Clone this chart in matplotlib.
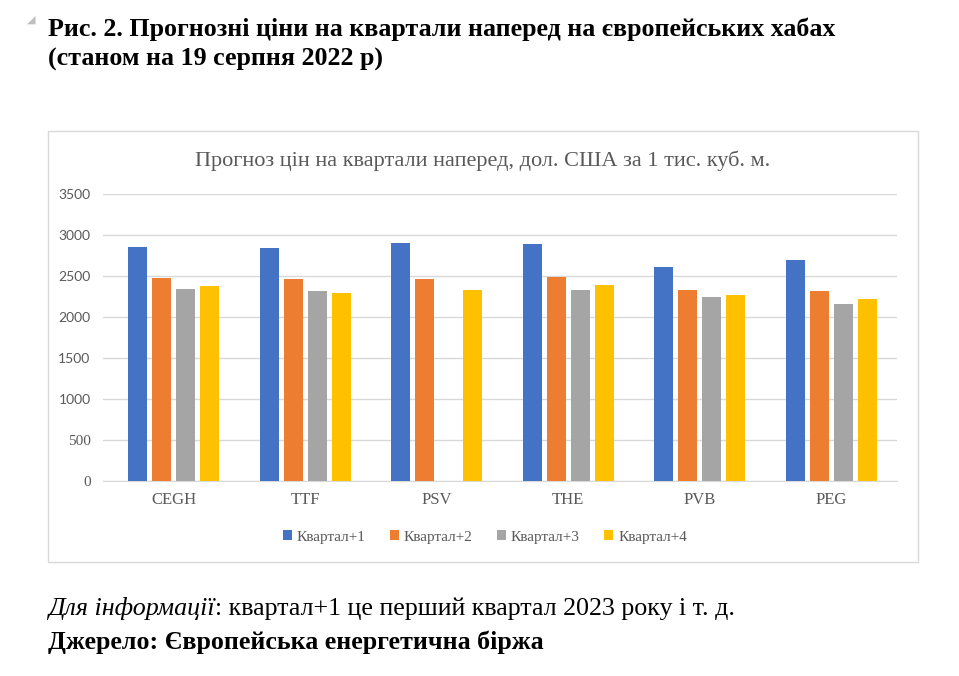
import numpy as np
import matplotlib
matplotlib.use("Agg")
import matplotlib.pyplot as plt
from matplotlib.patches import Rectangle, Patch

# Дані
categories = ['CEGH', 'TTF', 'PSV', 'THE', 'PVB', 'PEG']
kv1 = [2858, 2846, 2911, 2894, 2614, 2699]
kv2 = [2480, 2467, 2467, 2496, 2333, 2321]
kv3 = [2350, 2321, np.nan, 2333, 2248, 2163]
kv4 = [2382, 2297, 2333, 2394, 2272, 2224]
series_names = ['Квартал+1', 'Квартал+2', 'Квартал+3', 'Квартал+4']
yticks = [0, 500, 1000, 1500, 2000, 2500, 3000, 3500]

colors = ['#4472C4', '#ED7D31', '#A5A5A5', '#FFC000']
grey_txt = '#595959'
serif = 'Liberation Serif'

W, H = 959, 676
fig = plt.figure(figsize=(W / 100, H / 100), dpi=100)
fig.patch.set_facecolor('white')

def fx(px):
    return px / W

def fy(py):
    return 1 - py / H

# рамка діаграми
fig.patches.append(Rectangle((fx(48), fy(562)), fx(918) - fx(48), fy(131) - fy(562),
                             transform=fig.transFigure, facecolor='none',
                             edgecolor='#D9D9D9', linewidth=1, zorder=-1))

ax = fig.add_axes([fx(103), fy(481), fx(897) - fx(103), fy(194.3) - fy(481)])
ax.set_facecolor('none')

x = np.arange(len(categories))
step = 0.1825
width = 0.1445
for i, (vals, c, name) in enumerate(zip([kv1, kv2, kv3, kv4], colors, series_names)):
    ax.bar(x + (i - 1.5) * step, vals, width=width, color=c, label=name, zorder=3)

ax.set_xlim(-0.536, 5.5)
ax.set_ylim(0, 3500)
ax.set_yticks(yticks)
ax.set_yticklabels([str(v) for v in yticks], color=grey_txt)
# в оригіналі нижні підписи набрані шрифтом із засічками
for v, lab in zip(yticks, ax.get_yticklabels()):
    if v < 1000:
        lab.set_fontfamily(serif)
        lab.set_fontsize(11)
    else:
        lab.set_fontfamily('Lato')
        lab.set_fontsize(10)
ax.set_xticks(x)
ax.set_xticklabels(categories, fontfamily=serif, fontsize=12, color=grey_txt)
ax.tick_params(axis='y', length=0, pad=9)
ax.tick_params(axis='x', length=0, pad=8)
ax.grid(axis='y', color='#D9D9D9', linewidth=1, zorder=0)
for s in ['top', 'right', 'left']:
    ax.spines[s].set_visible(False)
ax.spines['bottom'].set_color('#D9D9D9')

# заголовок діаграми
fig.text(fx(483), fy(161), 'Прогноз цін на квартали наперед, дол. США за 1 тис. куб. м.',
         ha='center', va='center', fontfamily=serif, fontsize=16, color=grey_txt)

# легенда
handles = [Patch(facecolor=c) for c in colors]
fig.legend(handles, series_names, loc='center', bbox_to_anchor=(fx(485), fy(537)),
           ncol=4, frameon=False, handlelength=0.6, handleheight=0.6, handletextpad=0.3,
           columnspacing=1.6, prop={'family': serif, 'size': 11}, labelcolor=grey_txt)

# заголовок рисунка
fig.text(fx(27), fy(20), '◢', ha='left', va='center', fontsize=8, color='#BFBFBF',
         fontfamily='DejaVu Sans')
fig.text(fx(48), fy(29), 'Рис. 2. Прогнозні ціни на квартали наперед на європейських хабах',
         ha='left', va='center', fontfamily=serif, fontweight='bold', fontsize=18.7, color='black')
fig.text(fx(48), fy(59), '(станом на 19 серпня 2022 р)',
         ha='left', va='center', fontfamily=serif, fontweight='bold', fontsize=18.7, color='black')

# примітки внизу
t1 = fig.text(fx(48), fy(609), 'Для інформації', ha='left', va='center',
              fontfamily=serif, fontstyle='italic', fontsize=18.7, color='black')
renderer = fig.canvas.get_renderer()
bb = t1.get_window_extent(renderer=renderer)
fig.text(bb.x1 / W, fy(609), ': квартал+1 це перший квартал 2023 року і т. д.', ha='left', va='center',
         fontfamily=serif, fontsize=18.7, color='black')
fig.text(fx(48), fy(642), 'Джерело: Європейська енергетична біржа', ha='left', va='center',
         fontfamily=serif, fontweight='bold', fontsize=18.7, color='black')

fig.savefig('out.png', dpi=100, facecolor='white')
